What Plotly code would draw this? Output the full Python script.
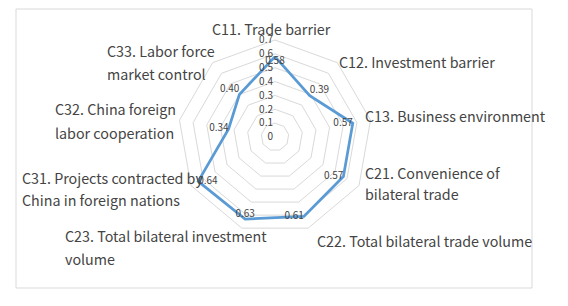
import plotly.graph_objects as go

categories = [
    "C11. Trade barrier",
    "C12. Investment barrier",
    "C13. Business environment",
    "C21. Convenience of|bilateral trade",
    "C22. Total bilateral trade volume",
    "C23. Total bilateral investment|volume",
    "C31. Projects contracted by|China in foreign nations",
    "C32. China foreign|labor cooperation",
    "C33. Labor force|market control",
]
values = [0.58, 0.39, 0.57, 0.57, 0.61, 0.63, 0.64, 0.34, 0.40]
value_labels = ["0.58", "0.39", "0.57", "0.57", "0.61", "0.63", "0.64", "0.34", "0.40"]
radial_ticks = [0, 0.1, 0.2, 0.3, 0.4, 0.5, 0.6, 0.7]
radial_ticktext = ["0", "0.1", "0.2", "0.3", "0.4", "0.5", "0.6", "0.7"]

W, H = 568, 306
FONT = "Noto Sans CJK SC"
TXT = "#444444"

theta = [c.replace("|", " ") for c in categories]
label_pos = ["bottom center", "top right", "middle left", "middle left", "middle left",
             "top center", "middle right", "middle left", "top left"]

fig = go.Figure()
fig.add_trace(go.Scatterpolar(
    r=values + values[:1],
    theta=theta + theta[:1],
    mode="lines+text",
    text=value_labels + [""],
    textposition=label_pos + ["middle center"],
    textfont=dict(family=FONT, size=10, color=TXT),
    line=dict(color="#5B9BD5", width=2.75),
    hoverinfo="skip",
    showlegend=False,
))

cx, cy, R = 275, 137, 97
fig.update_layout(
    width=W, height=H,
    margin=dict(l=0, r=0, t=0, b=0),
    paper_bgcolor="white",
    plot_bgcolor="white",
    polar=dict(
        domain=dict(x=[(cx - R) / W, (cx + R) / W], y=[(H - cy - R) / H, (H - cy + R) / H]),
        gridshape="linear",
        bgcolor="white",
        radialaxis=dict(
            range=[0, 0.7], tickvals=radial_ticks, ticktext=radial_ticktext,
            angle=90, tickangle=90, side="counterclockwise",
            showline=False, ticks="", gridcolor="#d9d9d9", gridwidth=1,
            tickfont=dict(family=FONT, size=10, color=TXT),
        ),
        angularaxis=dict(
            rotation=90, direction="clockwise",
            showticklabels=False, ticks="", showgrid=False,
            showline=True, linecolor="#d9d9d9", linewidth=1,
        ),
    ),
    shapes=[dict(type="rect", xref="paper", yref="paper",
                 x0=16 / W, x1=532 / W, y0=1 - 288 / H, y1=1 - 9 / H,
                 line=dict(color="#d9d9d9", width=1), fillcolor="rgba(0,0,0,0)")],
)

# category label placement (left x / center y of each line, pixels)
label_layout = [
    (271.5, [28], "center"),
    (337, [62], "left"),
    (363, [115], "left"),
    (363, [172, 193], "left"),
    (315, [240], "left"),
    (63, [235, 258], "left"),
    (20, [177, 199], "left"),
    (53, [108, 132], "left"),
    (105, [51, 73], "left"),
]
for cat, (x, ys, anchor) in zip(categories, label_layout):
    for line, y in zip(cat.split("|"), ys):
        fig.add_annotation(
            x=x / W, y=1 - y / H, xref="paper", yref="paper",
            text=line, showarrow=False, xanchor=anchor, yanchor="middle",
            font=dict(family=FONT, size=14.3, color=TXT),
        )

fig.write_html("out.html")
